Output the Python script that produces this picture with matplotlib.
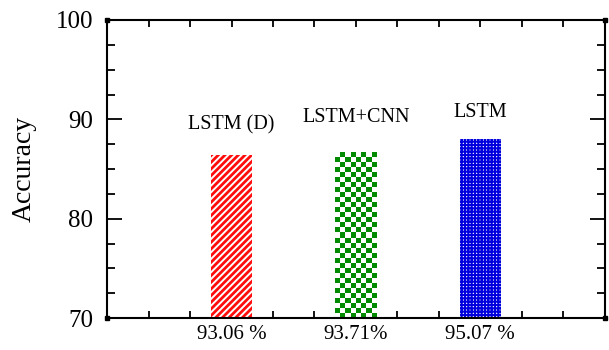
import matplotlib
matplotlib.use("Agg")
import matplotlib.pyplot as plt
import numpy as np
from matplotlib.colors import ListedColormap
from matplotlib.ticker import MultipleLocator

# data
models = ["LSTM (D)", "LSTM+CNN", "LSTM"]
accuracy = [86.4, 86.7, 88.0]
tick_labels = ["93.06 %", "93.71%", "95.07 %"]
positions = [3, 6, 9]

plt.rcParams["font.family"] = ["Liberation Serif", "DejaVu Serif"]

fig = plt.figure(figsize=(6.09, 3.5), dpi=100)
ax = fig.add_axes([0.176, 0.091, 0.817, 0.852])

ax.set_xlim(0, 12)
ax.set_ylim(70, 100)

# red diagonal stripes
plt.rcParams["hatch.linewidth"] = 2.0
b_red = ax.bar(positions[0], accuracy[0], width=1.0, facecolor="white",
               edgecolor="#ff0d0d", hatch="/////", linewidth=0, zorder=2)
# blue fine grid
plt.rcParams["hatch.linewidth"] = 1.5
b_blue = ax.bar(positions[2], accuracy[2], width=1.0, facecolor="white",
                edgecolor="#0000dd", hatch="+++++", linewidth=0, zorder=2)
# green checkerboard (image clipped to the bar)
b_green = ax.bar(positions[1], accuracy[1], width=1.0, facecolor="none",
                 linewidth=0, zorder=2)
patch = b_green.patches[0]
x0, w, top = patch.get_x(), patch.get_width(), patch.get_height()
ymin = ax.get_ylim()[0]
nx = 8
ny = int(round((top - ymin) / 0.5))
yy, xx = np.indices((ny, nx))
checker = (xx + yy) % 2
im = ax.imshow(checker, extent=[x0, x0 + w, ymin, top], origin="lower",
               cmap=ListedColormap(["white", "#008a00"]), aspect="auto",
               interpolation="nearest", zorder=2)
im.set_clip_path(patch)
ax.set_xlim(0, 12)
ax.set_ylim(70, 100)

# model names above bars
label_offsets = [3.0, 3.5, 2.7]
for x, v, name, off in zip(positions, accuracy, models, label_offsets):
    ax.text(x, v + off, name, ha="center", va="center", fontsize=14.5)

ax.set_xticks(positions)
ax.set_xticklabels(tick_labels, fontsize=15)
ax.xaxis.set_minor_locator(MultipleLocator(1))
ax.yaxis.set_major_locator(MultipleLocator(10))
ax.yaxis.set_minor_locator(MultipleLocator(2.5))
ax.tick_params(axis="y", which="major", labelsize=18, direction="in",
               length=11, width=1.3, right=True, pad=10)
ax.tick_params(axis="y", which="minor", direction="in", length=5.5,
               width=1.3, right=True)
ax.tick_params(axis="x", which="both", direction="in", length=5, width=1.3,
               top=True, pad=5)
ax.set_ylabel("Accuracy", fontsize=20, labelpad=14)

for s in ax.spines.values():
    s.set_linewidth(1.5)

# little square markers at the frame corners
ax.plot([0, 0, 1, 1], [0, 1, 0, 1], "s", color="black", markersize=3.5,
        transform=ax.transAxes, clip_on=False, zorder=5)

fig.savefig("out.png", dpi=100)
